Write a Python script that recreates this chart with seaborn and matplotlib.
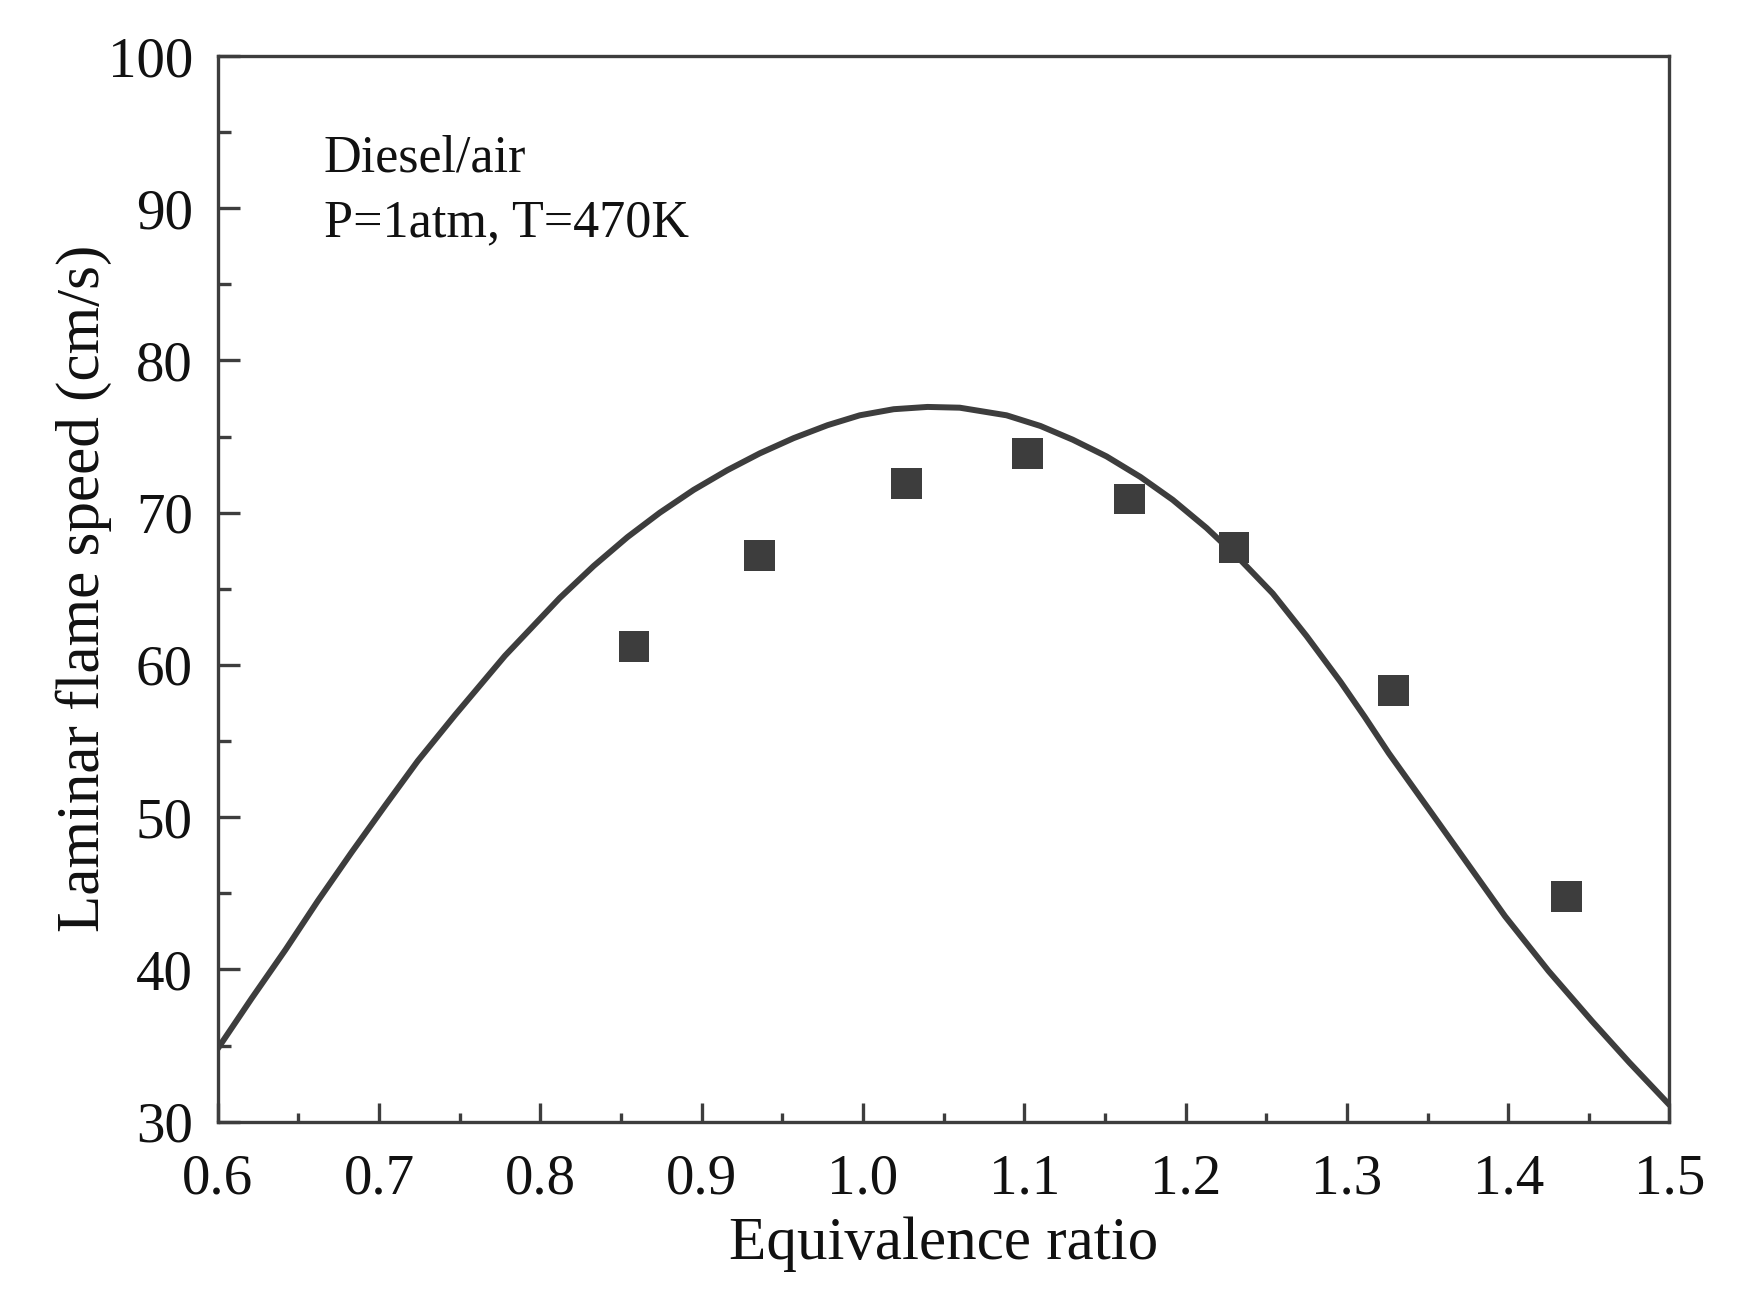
import numpy as np
import pandas as pd
import matplotlib
matplotlib.use("Agg")
import matplotlib.pyplot as plt
from matplotlib.ticker import MultipleLocator
import seaborn as sns

# model curve
phi_model = [0.600, 0.621, 0.642, 0.662, 0.683, 0.704, 0.724, 0.747, 0.778,
             0.812, 0.833, 0.854, 0.874, 0.895, 0.916, 0.936, 0.957, 0.978,
             0.998, 1.019, 1.040, 1.060, 1.089, 1.110, 1.130, 1.151, 1.172,
             1.192, 1.213, 1.234, 1.254, 1.275, 1.296, 1.311, 1.326, 1.353,
             1.398, 1.425, 1.452, 1.475, 1.500]
sl_model = [34.8, 38.1, 41.3, 44.5, 47.7, 50.8, 53.7, 56.7, 60.6,
            64.4, 66.5, 68.4, 70.0, 71.5, 72.8, 73.9, 74.9, 75.75,
            76.4, 76.8, 76.95, 76.9, 76.4, 75.7, 74.8, 73.7, 72.35,
            70.85, 69.0, 66.9, 64.7, 61.9, 58.9, 56.6, 54.2, 50.2,
            43.5, 39.9, 36.6, 33.9, 31.1]

# experimental points
phi_exp = [0.858, 0.936, 1.027, 1.102, 1.165, 1.230, 1.329, 1.436]
sl_exp = [61.2, 67.2, 71.9, 73.9, 70.9, 67.7, 58.3, 44.8]

x_ticks = [0.6, 0.7, 0.8, 0.9, 1.0, 1.1, 1.2, 1.3, 1.4, 1.5]
y_ticks = [30, 40, 50, 60, 70, 80, 90, 100]

sns.set_theme(style="ticks")
plt.rcParams["font.family"] = ["Liberation Serif", "DejaVu Serif"]
dark = "#3d3d3d"
txt = "#111111"

fig = plt.figure(figsize=(17.62, 13.15), dpi=100)
ax = fig.add_axes([0.1236, 0.147, 0.8239, 0.8104])

sns.lineplot(x=phi_model, y=sl_model, ax=ax, color=dark, lw=4.3)
sns.scatterplot(x=phi_exp, y=sl_exp, ax=ax, marker="s", s=490, color=dark,
                edgecolor="none", zorder=3)

ax.set_xlim(0.6, 1.5)
ax.set_ylim(30, 100)
ax.set_xticks(x_ticks)
ax.set_yticks(y_ticks)
ax.set_xticklabels([f"{v:.1f}" for v in x_ticks])
ax.set_yticklabels([str(v) for v in y_ticks])
ax.xaxis.set_minor_locator(MultipleLocator(0.05))
ax.yaxis.set_minor_locator(MultipleLocator(5))

ax.tick_params(which="both", direction="in", top=False, right=False,
               color=dark, width=2.4)
ax.tick_params(axis="x", which="major", length=14, labelsize=41, pad=23,
               labelcolor=txt)
ax.tick_params(axis="x", which="minor", length=6.5)
ax.tick_params(axis="y", which="major", length=16, labelsize=41, pad=18,
               labelcolor=txt)
ax.tick_params(axis="y", which="minor", length=9.5)

for sp in ax.spines.values():
    sp.set_color(dark)
    sp.set_linewidth(2.4)

ax.set_xlabel("Equivalence ratio", fontsize=44, labelpad=8, color=txt)
ax.set_ylabel("Laminar flame speed (cm/s)", fontsize=44, color=txt)
ax.yaxis.set_label_coords(-0.073, 0.5)

ax.text(0.073, 0.892, "Diesel/air", transform=ax.transAxes, fontsize=37.5,
        va="baseline", ha="left", color=txt)
ax.text(0.073, 0.831, "P=1atm, T=470K", transform=ax.transAxes, fontsize=37.5,
        va="baseline", ha="left", color=txt)

fig.savefig("out.png", dpi=100, facecolor="white")
